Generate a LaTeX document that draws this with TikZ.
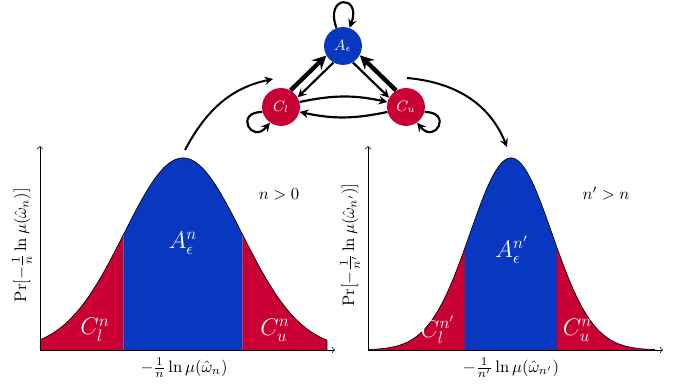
\documentclass[tikz,border=0pt]{standalone}
\usepackage{amsmath}
\usepackage{xcolor}
\usepackage{tikz}
\usetikzlibrary{arrows,positioning,calc}

\definecolor{tailred}{RGB}{200,0,52}
\definecolor{typblue}{RGB}{8,56,192}

\tikzset{
  statenode/.style={circle, minimum size=0.8cm, inner sep=0pt, text=white, font=\small},
  regionlabel/.style={text=white, font=\Large},
  strongedge/.style={-stealth, line width=2.6pt},
  weakedge/.style={-stealth, line width=1.3pt},
  flowarrow/.style={-stealth, line width=1.2pt}
}

\begin{document}
\begin{tikzpicture}[
    declare function={
      gl(\x)=0.802+4.054*exp(-((\x-3.864)^2)/(2*1.246^2));
      gr(\x)=0.802+4.054*exp(-((\x-10.789)^2)/(2*0.866^2));
    }]
    \useasboundingbox (0,0) rectangle (14.4,8.192);

    % Left distribution (n > 0)
    \fill[tailred] (0.845,0.802) -- plot[domain=0.845:2.604, samples=40] (\x,{gl(\x)}) -- (2.604,0.802) -- cycle;
    \fill[typblue] (2.604,0.802) -- plot[domain=2.604:5.124, samples=60] (\x,{gl(\x)}) -- (5.124,0.802) -- cycle;
    \fill[tailred] (5.124,0.802) -- plot[domain=5.124:6.904, samples=40] (\x,{gl(\x)}) -- (6.904,0.802) -- cycle;
    \draw[thin] plot[domain=0.845:6.904, samples=120] (\x,{gl(\x)}) -- (6.904,0.802);

    \draw[->] (0.845,0.802) -- (0.845,5.110);
    \draw[->] (0.845,0.802) -- (7.073,0.802);

    \node (xlabL) at (3.885,0.422) {$-\frac{1}{n}\ln\mu(\hat{\omega}_n)$};
    \node[rotate=90] (ylabL) at (0.465,3.019) {$\Pr[-\frac{1}{n}\ln\mu(\hat{\omega}_n)]$};
    \node (condL) at (5.891,4.096) {$n>0$};

    \node[regionlabel] (AnL) at (3.864,3.062) {$A_\epsilon^n$};
    \node[regionlabel] (ClL) at (2.006,1.225) {$C_l^n$};
    \node[regionlabel] (CuL) at (5.806,1.225) {$C_u^n$};

    % Right distribution (n' > n)
    \fill[tailred] (7.770,0.802) -- plot[domain=7.770:9.818, samples=40] (\x,{gr(\x)}) -- (9.818,0.802) -- cycle;
    \fill[typblue] (9.818,0.802) -- plot[domain=9.818:11.760, samples=60] (\x,{gr(\x)}) -- (11.760,0.802) -- cycle;
    \fill[tailred] (11.760,0.802) -- plot[domain=11.760:13.830, samples=40] (\x,{gr(\x)}) -- (13.830,0.802) -- cycle;
    \draw[thin] plot[domain=7.770:13.830, samples=120] (\x,{gr(\x)});

    \draw[->] (7.770,0.802) -- (7.770,5.110);
    \draw[->] (7.770,0.802) -- (13.999,0.802);

    \node (xlabR) at (10.789,0.422) {$-\frac{1}{n'}\ln\mu(\hat{\omega}_{n'})$};
    \node[rotate=90] (ylabR) at (7.390,3.019) {$\Pr[-\frac{1}{n'}\ln\mu(\hat{\omega}_{n'})]$};
    \node (condR) at (12.795,4.096) {$n'>n$};

    \node[regionlabel] (AnR) at (10.810,2.914) {$A_\epsilon^{n'}$};
    \node[regionlabel] (ClR) at (9.248,1.225) {$C_l^{n'}$};
    \node[regionlabel] (CuR) at (12.246,1.267) {$C_u^{n'}$};

    % Transition graph
    \node[statenode, fill=typblue] (Ae) at (7.242,7.221) {$A_\epsilon$};
    \node[statenode, fill=tailred] (Cl) at (5.933,5.933) {$C_l$};
    \node[statenode, fill=tailred] (Cu) at (8.572,5.933) {$C_u$};

    \draw[strongedge] (Cl.60) -- (Ae.210);
    \draw[weakedge] (Ae.240) -- (Cl.30);
    \draw[strongedge] (Cu.121) -- (Ae.331);
    \draw[weakedge] (Ae.301) -- (Cu.151);

    \draw[weakedge] (Cl.15) to[bend left=12] (Cu.165);
    \draw[weakedge] (Cu.195) to[bend left=12] (Cl.345);

    \draw[weakedge] (Ae.110) to[out=110, in=70, distance=0.75cm] (Ae.70);
    \draw[weakedge] (Cl.195) to[out=180, in=230, distance=0.6cm] (Cl.235);
    \draw[weakedge] (Cu.345) to[out=0, in=310, distance=0.6cm] (Cu.305);

    % From the distributions to the graph and back
    \coordinate (peakL) at (3.906,5.025);
    \coordinate (intoG) at (5.764,6.524);
    \coordinate (outG) at (8.593,6.545);
    \coordinate (peakR) at (10.705,5.088);

    \draw[flowarrow] (peakL) to[out=62, in=192] (intoG);
    \draw[flowarrow] (outG) to[out=-5, in=112] (peakR);

\end{tikzpicture}
\end{document}
